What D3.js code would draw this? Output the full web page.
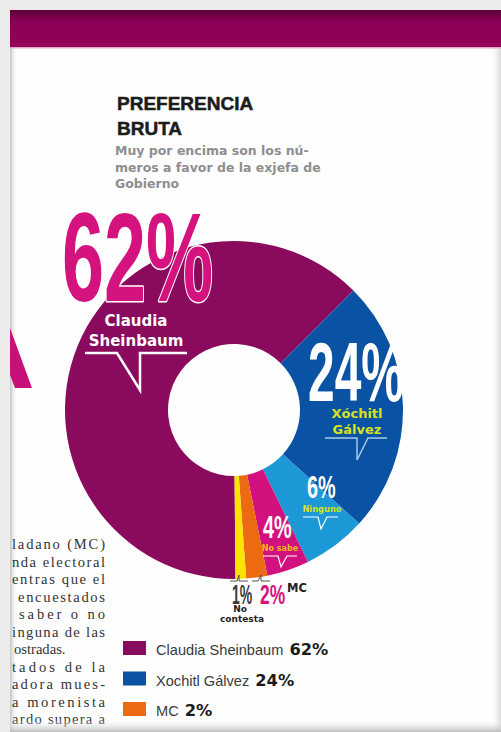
<!DOCTYPE html>
<html><head><meta charset="utf-8">
<script src="https://cdn.jsdelivr.net/npm/d3@7"></script>
<style>html,body{margin:0;padding:0;background:#ececec;}svg{display:block;}</style>
</head><body>
<script>
// ---- data ----
const categories = ["Claudia Sheinbaum", "Xóchitl Gálvez", "Ninguno", "No sabe", "MC", "No contesta"];
const values = [62, 24, 6, 4, 2, 1];
const sliceColors = ["#8a0b5d", "#0a52a3", "#1b98d5", "#d3117e", "#ec6a11", "#fde400"];
const legendNames = ["Claudia Sheinbaum", "Xochitl Gálvez", "MC"];
const legendIdx = [0, 1, 4];
const titleLines = ["PREFERENCIA", "BRUTA"];
const subtitleLines = ["Muy por encima son los nú-", "meros a favor de la exjefa de", "Gobierno"];
const bodyLines = ["ladano (MC)", "nda electoral", "entras que el", "encuestados", "saber o no", "inguna de las", "ostradas.", "tados de la", "adora mues-", "a morenista", "ardo supera a"];

const W = 501, H = 732;
const svg = d3.select("body").append("svg").attr("width", W).attr("height", H);
const defs = svg.append("defs");

// gradients
const gL = defs.append("linearGradient").attr("id", "shL").attr("x1", 0).attr("x2", 1).attr("y1", 0).attr("y2", 0);
gL.append("stop").attr("offset", 0).attr("stop-color", "#c4c4c4");
gL.append("stop").attr("offset", 0.5).attr("stop-color", "#e8e8e8").attr("stop-opacity", 0.6);
gL.append("stop").attr("offset", 1).attr("stop-color", "#ffffff").attr("stop-opacity", 0);
const gR = defs.append("linearGradient").attr("id", "shR").attr("x1", 0).attr("x2", 1).attr("y1", 0).attr("y2", 0);
gR.append("stop").attr("offset", 0).attr("stop-color", "#ffffff").attr("stop-opacity", 0);
gR.append("stop").attr("offset", 1).attr("stop-color", "#d8d8d8");
const gB = defs.append("linearGradient").attr("id", "shB").attr("x1", 0).attr("x2", 0).attr("y1", 0).attr("y2", 1);
gB.append("stop").attr("offset", 0).attr("stop-color", "#ffffff").attr("stop-opacity", 0);
gB.append("stop").attr("offset", 1).attr("stop-color", "#bdbdbd");
const gT = defs.append("linearGradient").attr("id", "band").attr("x1", 0).attr("x2", 0).attr("y1", 0).attr("y2", 1);
gT.append("stop").attr("offset", 0).attr("stop-color", "#5a0034");
gT.append("stop").attr("offset", 0.3).attr("stop-color", "#8a0055");
gT.append("stop").attr("offset", 1).attr("stop-color", "#940059");

// background + page
svg.append("rect").attr("width", W).attr("height", H).attr("fill", "#ececec");
svg.append("rect").attr("x", 10).attr("y", 10).attr("width", W - 10).attr("height", H - 10).attr("fill", "#fefefe");
svg.append("rect").attr("x", 10).attr("y", 10).attr("width", 8).attr("height", H - 10).attr("fill", "url(#shL)");
svg.append("rect").attr("x", 490).attr("y", 10).attr("width", 11).attr("height", H - 10).attr("fill", "url(#shR)");
svg.append("rect").attr("x", 10).attr("y", 10).attr("width", W - 10).attr("height", 37).attr("fill", "url(#band)");
svg.append("rect").attr("x", 10).attr("y", 47).attr("width", W - 10).attr("height", 1.5).attr("fill", "#e9a3cb");

// decorative letter fragment from facing page
svg.append("path").attr("d", "M10,328 L32,388 L15,388 L10,375 Z").attr("fill", "#c8107a");

// title
const tg = svg.append("g");
tg.selectAll("text.t").data(titleLines).join("text")
  .attr("x", 117).attr("y", (d, i) => 110 + i * 25)
  .attr("font-family", "Liberation Sans, Arial, sans-serif").attr("font-weight", "bold")
  .attr("font-size", 19).attr("fill", "#1c1c1c").attr("stroke", "#1c1c1c").attr("stroke-width", 0.5)
  .text(d => d);
tg.selectAll("text.s").data(subtitleLines).join("text")
  .attr("x", 115).attr("y", (d, i) => 155 + i * 16.5)
  .attr("font-family", "DejaVu Sans, sans-serif").attr("font-weight", "bold")
  .attr("font-size", 12.5).attr("fill", "#8e8e8e").text(d => d);

// donut
const cx = 234, cy = 410, R = 169, r0 = 66;
const a0 = 179.5 * Math.PI / 180;
const pie = d3.pie().sort(null).value(d => d).startAngle(a0).endAngle(a0 + 2 * Math.PI);
const arc = d3.arc().innerRadius(r0).outerRadius(R);
const color = d3.scaleOrdinal().domain(categories).range(sliceColors);
const arcs = pie(values);
svg.append("g").attr("transform", `translate(${cx},${cy})`)
  .selectAll("path").data(arcs).join("path")
  .attr("d", arc).attr("fill", (d, i) => color(categories[i]));

// big percentage labels (annotation layout)
function big(txt, x, y, size, sx, fill, stroke) {
  const t = svg.append("text")
    .attr("transform", `translate(${x},${y}) scale(${sx},1)`)
    .attr("font-family", "Liberation Sans, Arial, sans-serif").attr("font-weight", "bold")
    .attr("font-size", size).attr("fill", fill).text(txt);
  if (stroke) t.attr("stroke", stroke).attr("stroke-width", 3).attr("paint-order", "stroke").attr("stroke-linejoin", "round");
  return t;
}
function small(txt, x, y, size, fill) {
  return svg.append("text").attr("x", x).attr("y", y).attr("text-anchor", "middle")
    .attr("font-family", "DejaVu Sans, sans-serif").attr("font-weight", "bold")
    .attr("font-size", size).attr("fill", fill).text(txt);
}
function tail(d, col, w) {
  svg.append("path").attr("d", d).attr("fill", "none").attr("stroke", col).attr("stroke-width", w).attr("stroke-linejoin", "miter");
}
const pct = v => v + "%";

big(pct(values[0]), 62, 301, 126, 0.6, "#d5137f", "#ffffff");
small("Claudia", 136, 326, 15, "#ffffff");
small("Sheinbaum", 136, 346, 15, "#ffffff");
tail("M85,353 H117 L140,390 V353 H187", "#ffffff", 2.5);

big(pct(values[1]), 308, 401, 84, 0.57, "#ffffff");
small("Xóchitl", 357, 418, 13, "#d6e21c");
small("Gálvez", 357, 434, 13, "#d6e21c");
tail("M325,438 H357 V460 L368,438 H387", "#a8c8ea", 1.5);

big(pct(values[2]), 307, 498, 32, 0.62, "#ffffff");
small("Ninguno", 322, 512, 8.3, "#d6e21c");
tail("M303,517 H318 L321,529 L327,517 H338", "#ffffff", 1.2);

big(pct(values[3]), 263, 538, 32, 0.62, "#ffffff");
small("No sabe", 280, 551, 8, "#f7b51a");
tail("M263,556 H278 L281,567 L287,556 H297", "#ffffff", 1.2);

big(pct(values[5]), 232, 604, 28, 0.5, "#3a3a3a");
small("No", 240, 612, 9, "#222222");
small("contesta", 242, 622, 9, "#222222");
tail("M230,581 H237 L239,575 V581 H248", "#555555", 1);

big(pct(values[4]), 260, 604, 28, 0.62, "#d5137f");
svg.append("text").attr("x", 287).attr("y", 592).attr("font-family", "DejaVu Sans, sans-serif")
  .attr("font-weight", "bold").attr("font-size", 11.5).attr("fill", "#222222").text(categories[4]);
tail("M252,581 H258 L261,575 V581 H270", "#555555", 1);

// legend
const lg = svg.append("g");
legendIdx.forEach((ci, k) => {
  const y = 641 + k * 30.5;
  lg.append("rect").attr("x", 123).attr("y", y).attr("width", 23).attr("height", 14)
    .attr("fill", color(categories[ci]));
  const name = lg.append("text").attr("x", 156).attr("y", y + 14)
    .attr("font-family", "Liberation Sans, Arial, sans-serif").attr("font-size", 14.6)
    .attr("fill", "#3a3a3a").text(legendNames[k]);
  const wN = name.node().getComputedTextLength();
  lg.append("text").attr("x", 156 + wN + 6).attr("y", y + 14)
    .attr("font-family", "DejaVu Sans, sans-serif").attr("font-weight", "bold").attr("font-size", 16.3)
    .attr("fill", "#1c1c1c").text(pct(values[ci]));
});

// body text of the article (cut at the page fold)
const bodyStart = [12, 12, 12, 18, 19, 12, 14, 12, 12, 12, 12];
svg.append("g").selectAll("text").data(bodyLines).join("text")
  .attr("x", (d, i) => bodyStart[i]).attr("y", (d, i) => 549 + i * 17.5)
  .attr("font-family", "Liberation Serif, serif").attr("font-size", 14.6).attr("fill", "#333333")
  .each(function (d, i) {
    if (i !== 6) d3.select(this).attr("textLength", 105 - bodyStart[i]).attr("lengthAdjust", "spacing");
  })
  .text(d => d);

// bottom shadow
svg.append("rect").attr("x", 10).attr("y", 719).attr("width", W - 10).attr("height", 13).attr("fill", "url(#shB)");
</script>
</body></html>
